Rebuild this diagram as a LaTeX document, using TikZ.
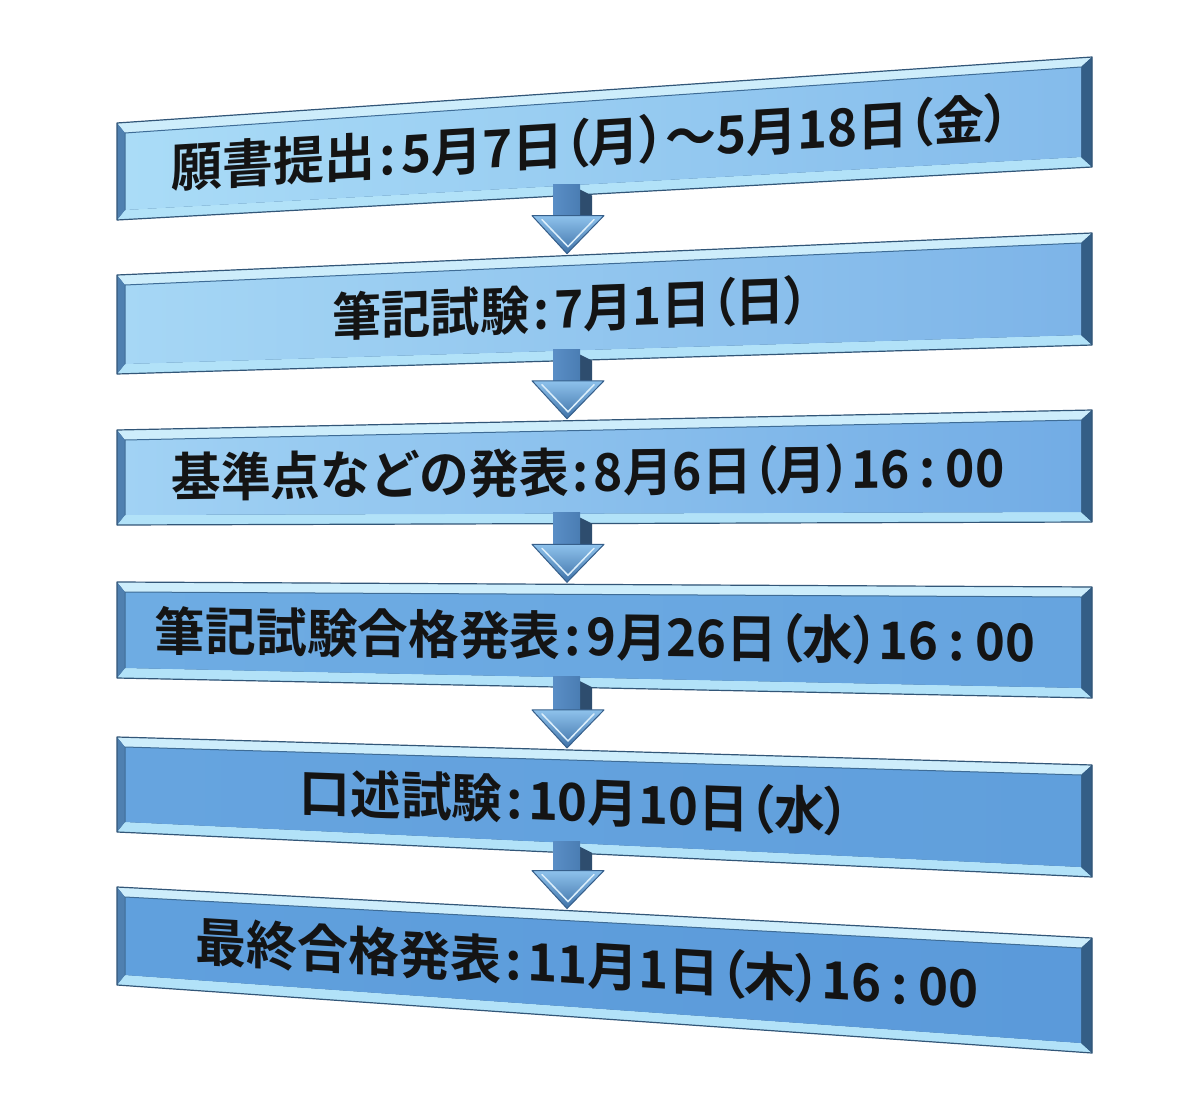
\documentclass[tikz,border=0pt]{standalone}
\usepackage{fontspec}
\newfontfamily\jpfont{Noto Sans CJK JP}[BoldFont={Noto Sans CJK JP Bold}]
\usetikzlibrary{calc}

\definecolor{framedark}{HTML}{3E6C96}
\definecolor{bevlight}{HTML}{CDEDFB}
\definecolor{bevlow}{HTML}{B2E2F8}
\definecolor{bevleft}{HTML}{4F80B0}
\definecolor{bevright}{HTML}{345E86}
\definecolor{shaftl}{HTML}{5A8EC6}
\definecolor{shaftmid}{HTML}{A9D8F6}
\definecolor{shaftr}{HTML}{4A7DB3}
\definecolor{shaftside}{HTML}{2E4D6E}
\definecolor{headtop}{HTML}{8EC2EC}
\definecolor{headbot}{HTML}{3F72A8}
\definecolor{headedge}{HTML}{365F8B}

% narrow brackets and spaced colons, as in the picture
\newcommand\kkL{{\addfontfeature{RawFeature=+palt}（}}
\newcommand\kkR{{\addfontfeature{RawFeature=+palt}）}}
\newcommand\kcol{\hspace{0.08em}:\hspace{0.1em}}
\newcommand\tcol{\hspace{0.2em}:\hspace{0.2em}}

\tikzset{
  steptext/.style={inner sep=0pt, text=black!92, font=\jpfont\bfseries\fontsize{52}{56}\selectfont},
  boxedge/.style={draw=framedark!80!black, line width=1.2pt, line join=round},
  faceline/.style={draw=framedark, line width=1pt},
  arrowshaft/.style={left color=shaftl, middle color=shaftmid, right color=shaftr},
  arrowhead/.style={top color=headtop, bottom color=headbot, draw=headedge, line width=1pt, line join=round},
  arrowside/.style={fill=shaftside},
  arrowrim/.style={draw=white!60!shaftmid, line width=1.5pt, line cap=round}
}

\begin{document}
\begin{tikzpicture}[x=1pt, y=-1pt]
  \fill[white] (0,0) rectangle (1200,1108);
  \useasboundingbox (0,0) rectangle (1200,1108);
  % the six steps
  \foreach \i/\yA/\yB/\yC/\yD/\colL/\colR/\cx/\w/\txt in {
      1/123/220/57/167/AADCF7/84BBEB/591/838/{願書提出\kcol 5月7日\kkL 月\kkR ～5月18日\kkL 金\kkR},
      2/275/374/233/345/A6D7F5/7DB4E8/571/477/{筆記試験\kcol 7月1日\kkL 日\kkR},
      3/430/525/410/522/A1D2F4/72ACE5/588/833/{基準点などの発表\kcol 8月6日\kkL 月\kkR 16\tcol 00},
      4/582/678/587/698/6EACE3/66A4DF/595/880/{筆記試験合格発表\kcol 9月26日\kkL 水\kkR 16\tcol 00},
      5/737/832/765/877/66A4DF/609FDC/575/550/{口述試験\kcol 10月10日\kkL 水\kkR},
      6/887/985/938/1053/60A0DD/5B9ADA/587/783/{最終合格発表\kcol 11月1日\kkL 木\kkR 16\tcol 00}}{
    \definecolor{facel}{HTML}{\colL}
    \definecolor{facer}{HTML}{\colR}
    \fill[framedark] (117,\yA) -- (1092,\yC) -- (1092,\yD) -- (117,\yB) -- cycle;
    \fill[bevlight] (117,\yA) -- (1092,\yC) -- (1081,\yC+10) -- (125,\yA+10) -- cycle;
    \fill[bevlow] (117,\yB) -- (125,\yB-10) -- (1081,\yD-10) -- (1092,\yD) -- cycle;
    \fill[bevleft] (117,\yA) -- (125,\yA+10) -- (125,\yB-10) -- (117,\yB) -- cycle;
    \fill[bevright] (1092,\yC) -- (1081,\yC+10) -- (1081,\yD-10) -- (1092,\yD) -- cycle;
    \shade[left color=facel, right color=facer] (125,\yA+10) -- (1081,\yC+10) -- (1081,\yD-10) -- (125,\yB-10) -- cycle;
    \draw[faceline] (125,\yB-10) -- (125,\yA+10) -- (1081,\yC+10);
    \draw[boxedge] (117,\yA) -- (1092,\yC) -- (1092,\yD) -- (117,\yB) -- cycle;
    % text along the slant
    \pgfmathsetmacro\fr{(\cx-117)/975}
    \pgfmathsetmacro\ty{(\yA+\yB)/2*(1-\fr)+(\yC+\yD)/2*\fr}
    \pgfmathsetmacro\sl{((\yA+\yB)-(\yC+\yD))/2/975}
    \node[steptext, yslant=\sl] (t\i) at (\cx,\ty) {\resizebox{\w pt}{\height}{\txt}};
    % where the arrows meet the box
    \pgfmathsetmacro\sy{\yB+(\yD-\yB)*0.4615-11}
    \pgfmathsetmacro\ny{\yA+(\yC-\yA)*0.4615-2}
    \coordinate (b\i-s) at (567,\sy);
    \coordinate (b\i-n) at (567,\ny);
  }
  % arrows between the steps
  \foreach \i/\j in {1/2,2/3,3/4,4/5,5/6}{
    \fill[arrowside] ($(b\i-s)+(13,5)$) -- ($(b\i-s)+(25,11)$) -- ($(b\j-n)+(25,-38)$) -- ($(b\j-n)+(13,-38)$) -- cycle;
    \shade[arrowshaft] ($(b\i-s)+(-14,0)$) rectangle ($(b\j-n)+(13,-36)$);
    \shade[arrowhead] ($(b\j-n)+(-35,-38)$) -- ($(b\j-n)+(37,-38)$) -- (b\j-n) -- cycle;
    \draw[arrowrim] ($(b\j-n)+(-25,-34)$) -- ($(b\j-n)+(1,-7)$) -- ($(b\j-n)+(27,-34)$);
  }
\end{tikzpicture}
\end{document}
